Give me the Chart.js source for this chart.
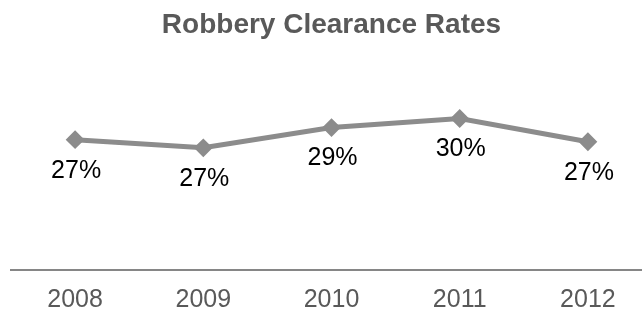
<!DOCTYPE html>
<html>
<head>
<meta charset="utf-8">
<script src="https://cdn.jsdelivr.net/npm/chart.js@4"></script>
<style>
  html, body { margin: 0; padding: 0; background: #fff; overflow: hidden; }
  #wrap { width: 660px; height: 312px; }
</style>
</head>
<body>
<div id="wrap"><canvas id="chart" width="660" height="312"></canvas></div>
<script>
// chart data
const years = ['2008', '2009', '2010', '2011', '2012'];
const clearanceRates = [27.4, 26.6, 28.6, 29.5, 27.2];
const chartTitle = 'Robbery Clearance Rates';

const FONT = '"Liberation Sans", Arial, sans-serif';

// draws the "27%" labels under each point
const pointLabels = {
    id: 'pointLabels',
    afterDatasetsDraw(chart) {
        const ctx = chart.ctx;
        const meta = chart.getDatasetMeta(0);
        ctx.save();
        ctx.font = '25px ' + FONT;
        ctx.fillStyle = '#000000';
        ctx.textAlign = 'center';
        ctx.textBaseline = 'middle';
        meta.data.forEach((pt, i) => {
            const value = chart.data.datasets[0].data[i];
            ctx.fillText(Math.round(value) + '%', pt.x + 1, pt.y + 31);
        });
        ctx.restore();
    }
};

const ctx = document.getElementById('chart').getContext('2d');
const myChart = new Chart(ctx, {
    type: 'line',
    data: {
        labels: years,
        datasets: [{
            data: clearanceRates,
            borderColor: '#8c8c8c',
            backgroundColor: '#8c8c8c',
            borderWidth: 5,
            pointStyle: 'rectRot',
            pointRadius: 8,
            pointBorderWidth: 2,
            pointBorderColor: '#8c8c8c',
            pointBackgroundColor: '#8c8c8c',
            tension: 0,
            clip: false
        }]
    },
    options: {
        responsive: false,
        animation: false,
        layout: { autoPadding: false, padding: { left: 11, right: 8, top: 0, bottom: -19 } },
        plugins: {
            legend: { display: false },
            tooltip: { enabled: false },
            title: {
                display: true,
                text: chartTitle,
                color: '#595959',
                font: { family: FONT, size: 28, weight: 'bold', lineHeight: 1 },
                padding: { top: 11, bottom: 29 }
            }
        },
        scales: {
            x: {
                offset: true,
                grid: { display: false, drawTicks: false },
                border: { display: true, color: '#868686', width: 2 },
                ticks: {
                    color: '#595959',
                    padding: 18,
                    font: { family: FONT, size: 25, lineHeight: 1 }
                }
            },
            y: {
                display: false,
                min: 14.5,
                max: 34.5
            }
        }
    },
    plugins: [pointLabels]
});
</script>
</body>
</html>
